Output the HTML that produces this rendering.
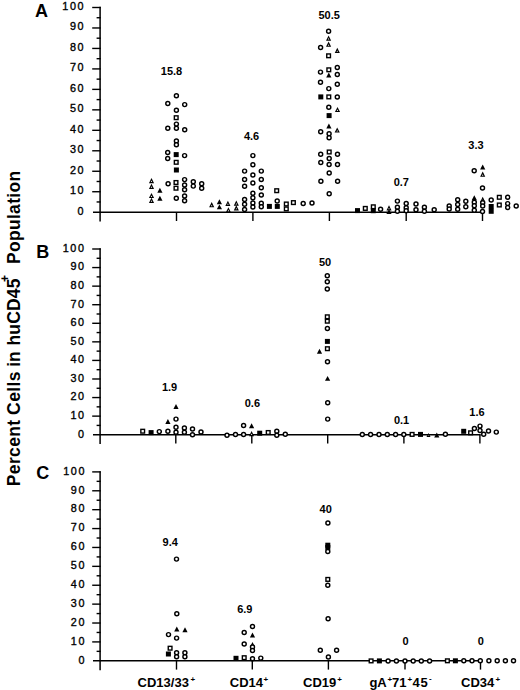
<!DOCTYPE html>
<html><head><meta charset="utf-8"><title>Figure</title>
<style>
html,body{margin:0;padding:0;background:#fff;}
body{width:520px;height:690px;overflow:hidden;}
svg{display:block;}
text{font-family:"Liberation Sans",sans-serif;fill:#000;}
.o{fill:#fff;stroke:#000;stroke-width:1.45;}
.f{fill:#000;stroke:none;}
.ot{fill:#fff;stroke:#000;stroke-width:1.5;stroke-linejoin:miter;}
.ax{stroke:#000;stroke-width:1.5;fill:none;}
.tk{stroke:#000;stroke-width:1.4;fill:none;}
.yl{font-size:10.8px;letter-spacing:1.6px;text-anchor:end;stroke:#000;stroke-width:0.35px;}
.vl{font-size:11px;font-weight:bold;text-anchor:middle;}
.pl{font-size:17.5px;font-weight:bold;}
.pn{font-size:18px;font-weight:bold;}
.xl{font-size:13px;font-weight:bold;}
.sup{font-size:8px;font-weight:bold;}
</style></head><body>
<svg width="520" height="690" viewBox="0 0 520 690">
<rect width="520" height="690" fill="#fff"/>
<line x1="100.1" y1="6.80" x2="100.1" y2="221.60" class="ax"/>
<line x1="93.0" y1="212.2" x2="483.30" y2="212.2" class="ax"/>
<line x1="96.6" y1="201.96" x2="100.69999999999999" y2="201.96" class="tk"/>
<line x1="92.2" y1="191.73" x2="100.69999999999999" y2="191.73" class="tk"/>
<line x1="96.6" y1="181.49" x2="100.69999999999999" y2="181.49" class="tk"/>
<line x1="92.2" y1="171.26" x2="100.69999999999999" y2="171.26" class="tk"/>
<line x1="96.6" y1="161.02" x2="100.69999999999999" y2="161.02" class="tk"/>
<line x1="92.2" y1="150.79" x2="100.69999999999999" y2="150.79" class="tk"/>
<line x1="96.6" y1="140.55" x2="100.69999999999999" y2="140.55" class="tk"/>
<line x1="92.2" y1="130.32" x2="100.69999999999999" y2="130.32" class="tk"/>
<line x1="96.6" y1="120.08" x2="100.69999999999999" y2="120.08" class="tk"/>
<line x1="92.2" y1="109.85" x2="100.69999999999999" y2="109.85" class="tk"/>
<line x1="96.6" y1="99.61" x2="100.69999999999999" y2="99.61" class="tk"/>
<line x1="92.2" y1="89.38" x2="100.69999999999999" y2="89.38" class="tk"/>
<line x1="96.6" y1="79.14" x2="100.69999999999999" y2="79.14" class="tk"/>
<line x1="92.2" y1="68.91" x2="100.69999999999999" y2="68.91" class="tk"/>
<line x1="96.6" y1="58.67" x2="100.69999999999999" y2="58.67" class="tk"/>
<line x1="92.2" y1="48.44" x2="100.69999999999999" y2="48.44" class="tk"/>
<line x1="96.6" y1="38.20" x2="100.69999999999999" y2="38.20" class="tk"/>
<line x1="92.2" y1="27.97" x2="100.69999999999999" y2="27.97" class="tk"/>
<line x1="96.6" y1="17.73" x2="100.69999999999999" y2="17.73" class="tk"/>
<line x1="92.2" y1="7.50" x2="100.69999999999999" y2="7.50" class="tk"/>
<text x="85.2" y="214.55" class="yl">0</text>
<text x="85.2" y="194.08" class="yl">10</text>
<text x="85.2" y="173.61" class="yl">20</text>
<text x="85.2" y="153.14" class="yl">30</text>
<text x="85.2" y="132.67" class="yl">40</text>
<text x="85.2" y="112.20" class="yl">50</text>
<text x="85.2" y="91.73" class="yl">60</text>
<text x="85.2" y="71.26" class="yl">70</text>
<text x="85.2" y="50.79" class="yl">80</text>
<text x="85.2" y="30.32" class="yl">90</text>
<text x="85.2" y="9.85" class="yl">100</text>
<line x1="176.5" y1="212.2" x2="176.5" y2="221.00" class="tk"/>
<line x1="252.9" y1="212.2" x2="252.9" y2="221.00" class="tk"/>
<line x1="329.4" y1="212.2" x2="329.4" y2="221.00" class="tk"/>
<line x1="406.2" y1="212.2" x2="406.2" y2="221.00" class="tk"/>
<line x1="482.5" y1="212.2" x2="482.5" y2="221.00" class="tk"/>
<text x="35.0" y="17.1" class="pn">A</text>
<line x1="100.1" y1="248.30" x2="100.1" y2="444.10" class="ax"/>
<line x1="93.0" y1="434.7" x2="480.70" y2="434.7" class="ax"/>
<line x1="96.6" y1="425.41" x2="100.69999999999999" y2="425.41" class="tk"/>
<line x1="92.2" y1="416.13" x2="100.69999999999999" y2="416.13" class="tk"/>
<line x1="96.6" y1="406.84" x2="100.69999999999999" y2="406.84" class="tk"/>
<line x1="92.2" y1="397.56" x2="100.69999999999999" y2="397.56" class="tk"/>
<line x1="96.6" y1="388.27" x2="100.69999999999999" y2="388.27" class="tk"/>
<line x1="92.2" y1="378.99" x2="100.69999999999999" y2="378.99" class="tk"/>
<line x1="96.6" y1="369.70" x2="100.69999999999999" y2="369.70" class="tk"/>
<line x1="92.2" y1="360.42" x2="100.69999999999999" y2="360.42" class="tk"/>
<line x1="96.6" y1="351.13" x2="100.69999999999999" y2="351.13" class="tk"/>
<line x1="92.2" y1="341.85" x2="100.69999999999999" y2="341.85" class="tk"/>
<line x1="96.6" y1="332.56" x2="100.69999999999999" y2="332.56" class="tk"/>
<line x1="92.2" y1="323.28" x2="100.69999999999999" y2="323.28" class="tk"/>
<line x1="96.6" y1="314.00" x2="100.69999999999999" y2="314.00" class="tk"/>
<line x1="92.2" y1="304.71" x2="100.69999999999999" y2="304.71" class="tk"/>
<line x1="96.6" y1="295.42" x2="100.69999999999999" y2="295.42" class="tk"/>
<line x1="92.2" y1="286.14" x2="100.69999999999999" y2="286.14" class="tk"/>
<line x1="96.6" y1="276.86" x2="100.69999999999999" y2="276.86" class="tk"/>
<line x1="92.2" y1="267.57" x2="100.69999999999999" y2="267.57" class="tk"/>
<line x1="96.6" y1="258.28" x2="100.69999999999999" y2="258.28" class="tk"/>
<line x1="92.2" y1="249.00" x2="100.69999999999999" y2="249.00" class="tk"/>
<text x="85.6" y="437.60" class="yl">0</text>
<text x="85.6" y="419.03" class="yl">10</text>
<text x="85.6" y="400.46" class="yl">20</text>
<text x="85.6" y="381.89" class="yl">30</text>
<text x="85.6" y="363.32" class="yl">40</text>
<text x="85.6" y="344.75" class="yl">50</text>
<text x="85.6" y="326.18" class="yl">60</text>
<text x="85.6" y="307.61" class="yl">70</text>
<text x="85.6" y="289.04" class="yl">80</text>
<text x="85.6" y="270.47" class="yl">90</text>
<text x="85.6" y="251.90" class="yl">100</text>
<line x1="175.8" y1="434.7" x2="175.8" y2="443.50" class="tk"/>
<line x1="251.8" y1="434.7" x2="251.8" y2="443.50" class="tk"/>
<line x1="327.7" y1="434.7" x2="327.7" y2="443.50" class="tk"/>
<line x1="403.9" y1="434.7" x2="403.9" y2="443.50" class="tk"/>
<line x1="479.9" y1="434.7" x2="479.9" y2="443.50" class="tk"/>
<text x="36.2" y="257.9" class="pn">B</text>
<line x1="100.1" y1="471.20" x2="100.1" y2="670.20" class="ax"/>
<line x1="93.0" y1="660.8" x2="481.30" y2="660.8" class="ax"/>
<line x1="96.6" y1="651.35" x2="100.69999999999999" y2="651.35" class="tk"/>
<line x1="92.2" y1="641.91" x2="100.69999999999999" y2="641.91" class="tk"/>
<line x1="96.6" y1="632.46" x2="100.69999999999999" y2="632.46" class="tk"/>
<line x1="92.2" y1="623.02" x2="100.69999999999999" y2="623.02" class="tk"/>
<line x1="96.6" y1="613.57" x2="100.69999999999999" y2="613.57" class="tk"/>
<line x1="92.2" y1="604.13" x2="100.69999999999999" y2="604.13" class="tk"/>
<line x1="96.6" y1="594.68" x2="100.69999999999999" y2="594.68" class="tk"/>
<line x1="92.2" y1="585.24" x2="100.69999999999999" y2="585.24" class="tk"/>
<line x1="96.6" y1="575.79" x2="100.69999999999999" y2="575.79" class="tk"/>
<line x1="92.2" y1="566.35" x2="100.69999999999999" y2="566.35" class="tk"/>
<line x1="96.6" y1="556.90" x2="100.69999999999999" y2="556.90" class="tk"/>
<line x1="92.2" y1="547.46" x2="100.69999999999999" y2="547.46" class="tk"/>
<line x1="96.6" y1="538.01" x2="100.69999999999999" y2="538.01" class="tk"/>
<line x1="92.2" y1="528.57" x2="100.69999999999999" y2="528.57" class="tk"/>
<line x1="96.6" y1="519.12" x2="100.69999999999999" y2="519.12" class="tk"/>
<line x1="92.2" y1="509.68" x2="100.69999999999999" y2="509.68" class="tk"/>
<line x1="96.6" y1="500.23" x2="100.69999999999999" y2="500.23" class="tk"/>
<line x1="92.2" y1="490.79" x2="100.69999999999999" y2="490.79" class="tk"/>
<line x1="96.6" y1="481.34" x2="100.69999999999999" y2="481.34" class="tk"/>
<line x1="92.2" y1="471.90" x2="100.69999999999999" y2="471.90" class="tk"/>
<text x="86.0" y="663.60" class="yl">0</text>
<text x="86.0" y="644.71" class="yl">10</text>
<text x="86.0" y="625.82" class="yl">20</text>
<text x="86.0" y="606.93" class="yl">30</text>
<text x="86.0" y="588.04" class="yl">40</text>
<text x="86.0" y="569.15" class="yl">50</text>
<text x="86.0" y="550.26" class="yl">60</text>
<text x="86.0" y="531.37" class="yl">70</text>
<text x="86.0" y="512.48" class="yl">80</text>
<text x="86.0" y="493.59" class="yl">90</text>
<text x="86.0" y="474.70" class="yl">100</text>
<line x1="176.5" y1="660.8" x2="176.5" y2="669.60" class="tk"/>
<line x1="252.3" y1="660.8" x2="252.3" y2="669.60" class="tk"/>
<line x1="328.4" y1="660.8" x2="328.4" y2="669.60" class="tk"/>
<line x1="405.0" y1="660.8" x2="405.0" y2="669.60" class="tk"/>
<line x1="480.5" y1="660.8" x2="480.5" y2="669.60" class="tk"/>
<text x="36.3" y="478.8" class="pn">C</text>
<circle cx="176.4" cy="95.8" r="2.0" class="o"/>
<circle cx="167.8" cy="103.5" r="2.0" class="o"/>
<circle cx="184.7" cy="104.6" r="2.0" class="o"/>
<circle cx="176.4" cy="110.3" r="2.0" class="o"/>
<rect x="174.35" y="115.85" width="3.70" height="3.70" class="o" style="stroke-width:1.4"/>
<circle cx="176.4" cy="124.1" r="2.0" class="o"/>
<circle cx="176.4" cy="128.3" r="2.0" class="o"/>
<circle cx="167.8" cy="128.3" r="2.0" class="o"/>
<circle cx="184.7" cy="129.7" r="2.0" class="o"/>
<circle cx="176.4" cy="141.0" r="2.0" class="o"/>
<circle cx="176.4" cy="144.7" r="2.0" class="o"/>
<circle cx="167.7" cy="152.5" r="2.0" class="o"/>
<circle cx="167.7" cy="158.5" r="2.0" class="o"/>
<rect x="173.70" y="152.10" width="5.00" height="5.00" class="f"/>
<circle cx="184.6" cy="155.6" r="2.0" class="o"/>
<rect x="174.35" y="160.45" width="3.70" height="3.70" class="o" style="stroke-width:1.4"/>
<rect x="173.90" y="167.50" width="5.00" height="5.00" class="f"/>
<polygon points="151.50,178.00 154.05,183.20 148.95,183.20" class="f"/><polygon points="151.50,180.61 152.21,182.05 150.79,182.05" fill="#fff"/>
<polygon points="151.50,183.70 154.05,188.90 148.95,188.90" class="f"/><polygon points="151.50,186.31 152.21,187.75 150.79,187.75" fill="#fff"/>
<polygon points="159.90,187.75 162.50,192.65 157.30,192.65" class="f"/>
<polygon points="151.50,192.90 154.05,198.10 148.95,198.10" class="f"/><polygon points="151.50,195.51 152.21,196.95 150.79,196.95" fill="#fff"/>
<polygon points="151.50,197.70 154.05,202.90 148.95,202.90" class="f"/><polygon points="151.50,200.31 152.21,201.75 150.79,201.75" fill="#fff"/>
<polygon points="159.90,195.75 162.50,200.65 157.30,200.65" class="f"/>
<circle cx="168.1" cy="183.7" r="2.0" class="o"/>
<rect x="174.15" y="180.65" width="3.70" height="3.70" class="o" style="stroke-width:1.4"/>
<rect x="174.15" y="186.35" width="3.70" height="3.70" class="o" style="stroke-width:1.4"/>
<circle cx="176.3" cy="198.3" r="2.0" class="o"/>
<circle cx="184.6" cy="179.6" r="2.0" class="o"/>
<circle cx="184.6" cy="184.9" r="2.0" class="o"/>
<circle cx="184.6" cy="189.7" r="2.0" class="o"/>
<circle cx="184.6" cy="196.0" r="2.0" class="o"/>
<circle cx="184.6" cy="200.8" r="2.0" class="o"/>
<circle cx="193.3" cy="181.8" r="2.0" class="o"/>
<circle cx="193.3" cy="186.1" r="2.0" class="o"/>
<circle cx="201.7" cy="183.8" r="2.0" class="o"/>
<circle cx="201.7" cy="188.3" r="2.0" class="o"/>
<circle cx="252.9" cy="155.6" r="2.0" class="o"/>
<circle cx="252.9" cy="164.8" r="2.0" class="o"/>
<circle cx="244.6" cy="171.1" r="2.0" class="o"/>
<circle cx="261.3" cy="171.1" r="2.0" class="o"/>
<circle cx="252.9" cy="174.9" r="2.0" class="o"/>
<circle cx="244.6" cy="179.4" r="2.0" class="o"/>
<circle cx="261.3" cy="179.4" r="2.0" class="o"/>
<circle cx="252.9" cy="183.0" r="2.0" class="o"/>
<circle cx="244.6" cy="186.3" r="2.0" class="o"/>
<circle cx="261.3" cy="187.8" r="2.0" class="o"/>
<circle cx="252.9" cy="193.3" r="2.0" class="o"/>
<circle cx="261.3" cy="195.0" r="2.0" class="o"/>
<circle cx="252.9" cy="197.8" r="2.0" class="o"/>
<circle cx="244.6" cy="199.5" r="2.0" class="o"/>
<circle cx="252.9" cy="202.9" r="2.0" class="o"/>
<circle cx="261.3" cy="203.3" r="2.0" class="o"/>
<circle cx="244.6" cy="204.2" r="2.0" class="o"/>
<circle cx="252.9" cy="206.9" r="2.0" class="o"/>
<circle cx="261.3" cy="206.8" r="2.0" class="o"/>
<circle cx="244.6" cy="209.5" r="2.0" class="o"/>
<rect x="266.90" y="203.90" width="5.00" height="5.00" class="f"/>
<polygon points="211.70,202.10 214.25,207.30 209.15,207.30" class="f"/><polygon points="211.70,204.71 212.41,206.15 210.99,206.15" fill="#fff"/>
<polygon points="219.40,199.35 222.00,204.25 216.80,204.25" class="f"/>
<polygon points="219.40,204.45 222.00,209.35 216.80,209.35" class="f"/>
<polygon points="227.90,200.70 230.45,205.90 225.35,205.90" class="f"/><polygon points="227.90,203.31 228.61,204.75 227.19,204.75" fill="#fff"/>
<polygon points="228.40,207.20 230.95,212.40 225.85,212.40" class="f"/><polygon points="228.40,209.81 229.11,211.25 227.69,211.25" fill="#fff"/>
<polygon points="236.30,200.50 238.85,205.70 233.75,205.70" class="f"/><polygon points="236.30,203.11 237.01,204.55 235.59,204.55" fill="#fff"/>
<polygon points="236.30,205.30 238.85,210.50 233.75,210.50" class="f"/><polygon points="236.30,207.91 237.01,209.35 235.59,209.35" fill="#fff"/>
<rect x="274.85" y="188.85" width="3.70" height="3.70" class="o" style="stroke-width:1.4"/>
<circle cx="277.2" cy="201.0" r="2.0" class="o"/>
<rect x="274.80" y="203.90" width="5.00" height="5.00" class="f"/>
<rect x="284.45" y="202.15" width="3.70" height="3.70" class="o" style="stroke-width:1.4"/>
<rect x="284.45" y="207.05" width="3.70" height="3.70" class="o" style="stroke-width:1.4"/>
<rect x="291.55" y="200.75" width="3.70" height="3.70" class="o" style="stroke-width:1.4"/>
<circle cx="303.2" cy="203.4" r="2.0" class="o"/>
<circle cx="312.0" cy="202.9" r="2.0" class="o"/>
<circle cx="328.6" cy="31.2" r="2.0" class="o"/>
<polygon points="328.60,35.50 331.15,40.70 326.05,40.70" class="f"/><polygon points="328.60,38.11 329.31,39.55 327.89,39.55" fill="#fff"/>
<polygon points="328.60,41.60 331.15,46.80 326.05,46.80" class="f"/><polygon points="328.60,44.21 329.31,45.65 327.89,45.65" fill="#fff"/>
<circle cx="320.6" cy="47.5" r="2.0" class="o"/>
<polygon points="337.30,47.80 339.85,53.00 334.75,53.00" class="f"/><polygon points="337.30,50.41 338.01,51.85 336.59,51.85" fill="#fff"/>
<rect x="326.75" y="53.95" width="3.70" height="3.70" class="o" style="stroke-width:1.4"/>
<circle cx="337.3" cy="67.5" r="2.0" class="o"/>
<rect x="326.95" y="67.95" width="3.70" height="3.70" class="o" style="stroke-width:1.4"/>
<circle cx="320.5" cy="72.1" r="2.0" class="o"/>
<polygon points="328.80,72.55 331.40,77.45 326.20,77.45" class="f"/>
<circle cx="337.3" cy="74.4" r="2.0" class="o"/>
<circle cx="320.5" cy="82.2" r="2.0" class="o"/>
<circle cx="337.3" cy="84.2" r="2.0" class="o"/>
<circle cx="328.8" cy="88.6" r="2.0" class="o"/>
<rect x="318.30" y="94.40" width="5.00" height="5.00" class="f"/>
<rect x="326.95" y="95.05" width="3.70" height="3.70" class="o" style="stroke-width:1.4"/>
<circle cx="337.3" cy="96.9" r="2.0" class="o"/>
<circle cx="328.8" cy="107.2" r="2.0" class="o"/>
<polygon points="337.50,106.90 340.05,112.10 334.95,112.10" class="f"/><polygon points="337.50,109.51 338.21,110.95 336.79,110.95" fill="#fff"/>
<rect x="326.60" y="113.10" width="5.00" height="5.00" class="f"/>
<polygon points="328.90,123.55 331.50,128.45 326.30,128.45" class="f"/>
<polygon points="337.20,127.40 339.75,132.60 334.65,132.60" class="f"/><polygon points="337.20,130.01 337.91,131.45 336.49,131.45" fill="#fff"/>
<circle cx="320.7" cy="131.7" r="2.0" class="o"/>
<circle cx="329.1" cy="133.7" r="2.0" class="o"/>
<circle cx="329.1" cy="137.8" r="2.0" class="o"/>
<rect x="327.35" y="150.15" width="3.70" height="3.70" class="o" style="stroke-width:1.4"/>
<circle cx="320.7" cy="154.2" r="2.0" class="o"/>
<circle cx="337.5" cy="154.2" r="2.0" class="o"/>
<circle cx="329.2" cy="158.4" r="2.0" class="o"/>
<circle cx="320.8" cy="162.5" r="2.0" class="o"/>
<circle cx="329.1" cy="164.5" r="2.0" class="o"/>
<circle cx="337.5" cy="164.5" r="2.0" class="o"/>
<circle cx="329.2" cy="173.0" r="2.0" class="o"/>
<circle cx="320.9" cy="181.2" r="2.0" class="o"/>
<circle cx="337.6" cy="181.2" r="2.0" class="o"/>
<circle cx="329.2" cy="193.7" r="2.0" class="o"/>
<rect x="355.00" y="208.10" width="5.00" height="5.00" class="f"/>
<rect x="363.45" y="206.55" width="3.70" height="3.70" class="o" style="stroke-width:1.4"/>
<rect x="371.45" y="204.95" width="3.70" height="3.70" class="o" style="stroke-width:1.4"/>
<rect x="370.80" y="208.20" width="5.00" height="5.00" class="f"/>
<circle cx="380.6" cy="209.2" r="2.0" class="o"/>
<polygon points="389.00,205.20 391.55,210.40 386.45,210.40" class="f"/><polygon points="389.00,207.81 389.71,209.25 388.29,209.25" fill="#fff"/>
<polygon points="389.00,209.15 391.60,214.05 386.40,214.05" class="f"/>
<circle cx="397.4" cy="201.1" r="2.0" class="o"/>
<circle cx="397.4" cy="207.3" r="2.0" class="o"/>
<circle cx="397.4" cy="211.3" r="2.0" class="o"/>
<circle cx="406.2" cy="203.5" r="2.0" class="o"/>
<circle cx="406.2" cy="207.8" r="2.0" class="o"/>
<circle cx="406.2" cy="210.8" r="2.0" class="o"/>
<circle cx="416.0" cy="204.0" r="2.0" class="o"/>
<circle cx="416.0" cy="209.7" r="2.0" class="o"/>
<circle cx="424.4" cy="207.3" r="2.0" class="o"/>
<circle cx="424.4" cy="211.2" r="2.0" class="o"/>
<circle cx="434.2" cy="209.8" r="2.0" class="o"/>
<circle cx="449.2" cy="206.0" r="2.0" class="o"/>
<circle cx="449.2" cy="209.0" r="2.0" class="o"/>
<circle cx="457.7" cy="199.7" r="2.0" class="o"/>
<circle cx="457.7" cy="204.5" r="2.0" class="o"/>
<circle cx="457.7" cy="209.3" r="2.0" class="o"/>
<circle cx="465.8" cy="201.2" r="2.0" class="o"/>
<circle cx="465.8" cy="206.7" r="2.0" class="o"/>
<circle cx="474.2" cy="170.8" r="2.0" class="o"/>
<polygon points="474.30,195.35 476.90,200.25 471.70,200.25" class="f"/>
<circle cx="474.3" cy="202.3" r="2.0" class="o"/>
<circle cx="474.3" cy="205.8" r="2.0" class="o"/>
<circle cx="474.3" cy="210.3" r="2.0" class="o"/>
<polygon points="482.70,164.55 485.30,169.45 480.10,169.45" class="f"/>
<polygon points="482.70,171.60 485.25,176.80 480.15,176.80" class="f"/><polygon points="482.70,174.21 483.41,175.65 481.99,175.65" fill="#fff"/>
<circle cx="482.5" cy="187.9" r="2.0" class="o"/>
<polygon points="482.70,196.80 485.25,202.00 480.15,202.00" class="f"/><polygon points="482.70,199.41 483.41,200.85 481.99,200.85" fill="#fff"/>
<circle cx="482.7" cy="202.8" r="2.0" class="o"/>
<circle cx="482.7" cy="206.0" r="2.0" class="o"/>
<circle cx="482.5" cy="211.5" r="2.0" class="o"/>
<circle cx="491.2" cy="200.0" r="2.0" class="o"/>
<rect x="488.70" y="204.00" width="5.00" height="5.00" class="f"/>
<rect x="488.70" y="208.80" width="5.00" height="5.00" class="f"/>
<rect x="497.45" y="195.45" width="3.70" height="3.70" class="o" style="stroke-width:1.4"/>
<rect x="497.45" y="203.15" width="3.70" height="3.70" class="o" style="stroke-width:1.4"/>
<circle cx="507.7" cy="197.3" r="2.0" class="o"/>
<circle cx="507.7" cy="203.6" r="2.0" class="o"/>
<circle cx="507.7" cy="207.4" r="2.0" class="o"/>
<circle cx="516.2" cy="206.0" r="2.0" class="o"/>
<rect x="140.85" y="429.35" width="3.70" height="3.70" class="o" style="stroke-width:1.4"/>
<rect x="148.60" y="430.10" width="5.00" height="5.00" class="f"/>
<circle cx="159.3" cy="431.6" r="2.0" class="o"/>
<circle cx="167.9" cy="431.2" r="2.0" class="o"/>
<polygon points="167.90,419.05 170.50,423.95 165.30,423.95" class="f"/>
<polygon points="176.00,404.05 178.60,408.95 173.40,408.95" class="f"/>
<circle cx="176.0" cy="419.1" r="2.0" class="o"/>
<circle cx="176.0" cy="427.2" r="2.0" class="o"/>
<circle cx="176.0" cy="432.3" r="2.0" class="o"/>
<circle cx="184.4" cy="428.0" r="2.0" class="o"/>
<circle cx="184.4" cy="432.3" r="2.0" class="o"/>
<circle cx="192.5" cy="428.9" r="2.0" class="o"/>
<circle cx="192.5" cy="434.7" r="2.0" class="o"/>
<circle cx="201.0" cy="432.0" r="2.0" class="o"/>
<circle cx="227.0" cy="435.2" r="2.0" class="o"/>
<circle cx="235.5" cy="434.5" r="2.0" class="o"/>
<circle cx="243.6" cy="434.5" r="2.0" class="o"/>
<circle cx="243.6" cy="425.5" r="2.0" class="o"/>
<polygon points="251.60,423.35 254.20,428.25 249.00,428.25" class="f"/>
<polygon points="251.60,431.00 254.15,436.20 249.05,436.20" class="f"/><polygon points="251.60,433.61 252.31,435.05 250.89,435.05" fill="#fff"/>
<rect x="257.20" y="430.70" width="5.00" height="5.00" class="f"/>
<rect x="266.35" y="430.65" width="3.70" height="3.70" class="o" style="stroke-width:1.4"/>
<circle cx="276.8" cy="431.2" r="2.0" class="o"/>
<circle cx="276.8" cy="435.2" r="2.0" class="o"/>
<circle cx="285.3" cy="434.2" r="2.0" class="o"/>
<circle cx="327.3" cy="275.8" r="2.0" class="o"/>
<circle cx="327.3" cy="281.7" r="2.0" class="o"/>
<circle cx="327.3" cy="289.0" r="2.0" class="o"/>
<rect x="325.45" y="314.95" width="3.70" height="3.70" class="o" style="stroke-width:1.4"/>
<rect x="325.45" y="319.35" width="3.70" height="3.70" class="o" style="stroke-width:1.4"/>
<circle cx="327.4" cy="328.4" r="2.0" class="o"/>
<rect x="324.90" y="338.90" width="5.00" height="5.00" class="f"/>
<rect x="325.55" y="346.85" width="3.70" height="3.70" class="o" style="stroke-width:1.4"/>
<polygon points="319.50,348.85 322.10,353.75 316.90,353.75" class="f"/>
<circle cx="327.5" cy="361.8" r="2.0" class="o"/>
<polygon points="327.60,375.95 330.20,380.85 325.00,380.85" class="f"/>
<circle cx="327.7" cy="402.7" r="2.0" class="o"/>
<circle cx="327.7" cy="419.1" r="2.0" class="o"/>
<circle cx="362.3" cy="434.4" r="2.0" class="o"/>
<circle cx="370.6" cy="434.4" r="2.0" class="o"/>
<circle cx="379.0" cy="434.4" r="2.0" class="o"/>
<circle cx="387.3" cy="434.4" r="2.0" class="o"/>
<circle cx="395.6" cy="434.4" r="2.0" class="o"/>
<circle cx="403.8" cy="434.4" r="2.0" class="o"/>
<rect x="410.25" y="432.55" width="3.70" height="3.70" class="o" style="stroke-width:1.4"/>
<rect x="418.00" y="431.90" width="5.00" height="5.00" class="f"/>
<polygon points="428.50,433.10 430.50,436.90 426.50,436.90" class="f"/><polygon points="428.50,435.14 428.93,435.95 428.07,435.95" fill="#fff"/>
<polygon points="436.80,432.55 439.40,437.45 434.20,437.45" class="f"/>
<circle cx="445.4" cy="434.3" r="2.0" class="o"/>
<rect x="461.20" y="428.80" width="5.00" height="5.00" class="f"/>
<rect x="468.75" y="430.95" width="3.70" height="3.70" class="o" style="stroke-width:1.4"/>
<circle cx="474.4" cy="428.5" r="2.0" class="o"/>
<circle cx="480.0" cy="426.1" r="2.0" class="o"/>
<circle cx="480.0" cy="430.4" r="2.0" class="o"/>
<circle cx="483.7" cy="434.2" r="2.0" class="o"/>
<circle cx="488.5" cy="430.9" r="2.0" class="o"/>
<circle cx="496.3" cy="432.1" r="2.0" class="o"/>
<circle cx="176.5" cy="559.1" r="2.0" class="o"/>
<circle cx="176.8" cy="613.7" r="2.0" class="o"/>
<polygon points="176.80,626.55 179.40,631.45 174.20,631.45" class="f"/>
<polygon points="185.00,627.35 187.60,632.25 182.40,632.25" class="f"/>
<circle cx="168.5" cy="634.6" r="2.0" class="o"/>
<circle cx="176.6" cy="638.1" r="2.0" class="o"/>
<rect x="168.25" y="646.35" width="3.70" height="3.70" class="o" style="stroke-width:1.4"/>
<rect x="165.90" y="651.50" width="5.00" height="5.00" class="f"/>
<circle cx="176.6" cy="652.7" r="2.0" class="o"/>
<circle cx="176.6" cy="656.8" r="2.0" class="o"/>
<circle cx="184.9" cy="652.7" r="2.0" class="o"/>
<circle cx="184.9" cy="656.8" r="2.0" class="o"/>
<circle cx="252.5" cy="626.5" r="2.0" class="o"/>
<circle cx="244.2" cy="632.5" r="2.0" class="o"/>
<polygon points="252.50,632.55 255.10,637.45 249.90,637.45" class="f"/>
<circle cx="244.2" cy="644.0" r="2.0" class="o"/>
<polygon points="252.50,642.00 255.05,647.20 249.95,647.20" class="f"/><polygon points="252.50,644.61 253.21,646.05 251.79,646.05" fill="#fff"/>
<circle cx="252.5" cy="647.0" r="2.0" class="o"/>
<circle cx="252.5" cy="650.4" r="2.0" class="o"/>
<rect x="233.50" y="655.80" width="5.00" height="5.00" class="f"/>
<rect x="242.35" y="655.85" width="3.70" height="3.70" class="o" style="stroke-width:1.4"/>
<circle cx="252.5" cy="658.8" r="2.0" class="o"/>
<circle cx="260.8" cy="658.1" r="2.0" class="o"/>
<circle cx="327.9" cy="522.9" r="2.0" class="o"/>
<rect x="325.30" y="542.70" width="5.00" height="5.00" class="f"/>
<rect x="325.30" y="544.90" width="5.00" height="5.00" class="f"/>
<circle cx="327.8" cy="551.5" r="2.0" class="o"/>
<rect x="325.95" y="577.55" width="3.70" height="3.70" class="o" style="stroke-width:1.4"/>
<circle cx="327.8" cy="585.3" r="2.0" class="o"/>
<circle cx="328.1" cy="618.8" r="2.0" class="o"/>
<circle cx="320.3" cy="650.3" r="2.0" class="o"/>
<circle cx="336.6" cy="650.3" r="2.0" class="o"/>
<circle cx="328.4" cy="656.9" r="2.0" class="o"/>
<rect x="369.25" y="659.05" width="3.70" height="3.70" class="o" style="stroke-width:1.4"/>
<rect x="376.90" y="658.40" width="5.00" height="5.00" class="f"/>
<circle cx="388.1" cy="660.9" r="2.0" class="o"/>
<circle cx="396.4" cy="660.9" r="2.0" class="o"/>
<circle cx="405.0" cy="660.9" r="2.0" class="o"/>
<circle cx="413.2" cy="660.9" r="2.0" class="o"/>
<circle cx="421.3" cy="660.9" r="2.0" class="o"/>
<circle cx="429.6" cy="660.9" r="2.0" class="o"/>
<rect x="445.55" y="658.95" width="3.70" height="3.70" class="o" style="stroke-width:1.4"/>
<rect x="452.90" y="658.30" width="5.00" height="5.00" class="f"/>
<circle cx="463.8" cy="660.8" r="2.0" class="o"/>
<circle cx="472.0" cy="660.8" r="2.0" class="o"/>
<circle cx="480.3" cy="660.8" r="2.0" class="o"/>
<circle cx="488.9" cy="660.8" r="2.0" class="o"/>
<circle cx="497.2" cy="660.8" r="2.0" class="o"/>
<circle cx="505.4" cy="660.8" r="2.0" class="o"/>
<circle cx="513.5" cy="660.8" r="2.0" class="o"/>
<text x="171.5" y="75.40" class="vl">15.8</text>
<text x="251.6" y="140.00" class="vl">4.6</text>
<text x="329.2" y="18.80" class="vl">50.5</text>
<text x="401.3" y="186.20" class="vl">0.7</text>
<text x="476.0" y="148.70" class="vl">3.3</text>
<text x="169.6" y="391.10" class="vl">1.9</text>
<text x="252.4" y="407.30" class="vl">0.6</text>
<text x="325.1" y="266.40" class="vl">50</text>
<text x="401.6" y="423.80" class="vl">0.1</text>
<text x="477.0" y="415.80" class="vl">1.6</text>
<text x="170.2" y="546.40" class="vl">9.4</text>
<text x="244.8" y="612.80" class="vl">6.9</text>
<text x="325.7" y="512.90" class="vl">40</text>
<text x="405.6" y="645.40" class="vl">0</text>
<text x="480.8" y="645.40" class="vl">0</text>
<text x="137.6" y="686.8" class="xl">CD13/33</text><text x="190.6" y="682.1" class="sup">+</text>
<text x="229.8" y="686.8" class="xl">CD14</text><text x="263.4" y="682.1" class="sup">+</text>
<text x="303.1" y="686.8" class="xl">CD19</text><text x="337.2" y="682.1" class="sup">+</text>
<text x="369.4" y="686.8" class="xl">gA</text><text x="387.6" y="682.1" class="sup">+</text><text x="392.0" y="686.8" class="xl">71</text><text x="407.6" y="682.1" class="sup">+</text><text x="412.6" y="686.8" class="xl" letter-spacing="0.6">45</text><text x="429.0" y="681.0" class="sup">-</text>
<text x="461.1" y="686.8" class="xl">CD34</text><text x="495.4" y="682.1" class="sup">+</text>
<text transform="translate(20.0 486.2) rotate(-90)" class="pl" letter-spacing="0.35">Percent</text>
<text transform="translate(20.0 414.9) rotate(-90)" class="pl" letter-spacing="0.4">Cells</text>
<text transform="translate(20.0 366.8) rotate(-90)" class="pl" >in</text>
<text transform="translate(20.0 345.6) rotate(-90)" class="pl" letter-spacing="0.2">huCD45</text>
<text transform="translate(8.6 282.0) rotate(-90)" style="font-size:12px;font-weight:bold">+</text>
<text transform="translate(20.0 264.0) rotate(-90)" class="pl" letter-spacing="0.3">Population</text>
</svg>
</body></html>
